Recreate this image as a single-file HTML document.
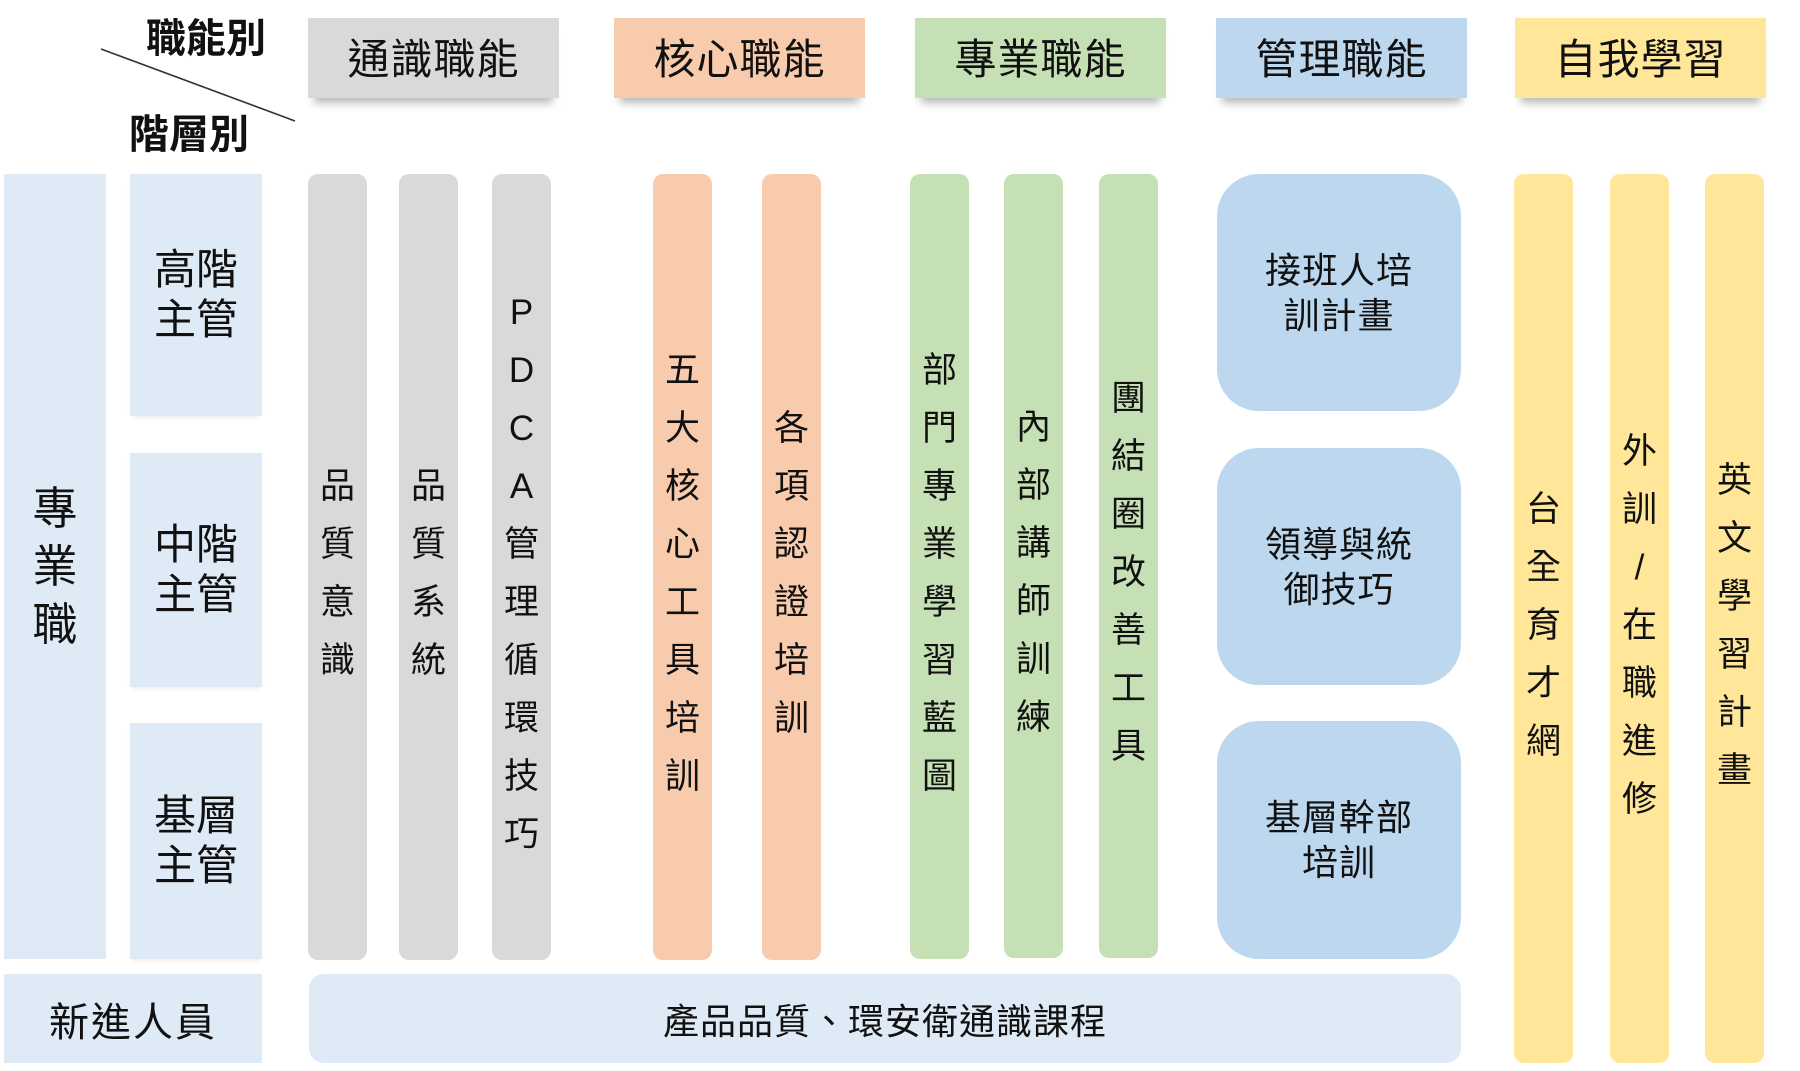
<!DOCTYPE html>
<html>
<head>
<meta charset="utf-8">
<style>
  html, body { margin:0; padding:0; }
  body { width:1800px; height:1071px; background:#fff; position:relative; overflow:hidden;
         font-family:"Liberation Sans","Noto Sans CJK TC","Noto Sans CJK SC",sans-serif; color:#111; }
  .a { position:absolute; box-sizing:border-box; }
  .hdr { top:18px; height:80px; width:251px; display:flex; align-items:center; justify-content:center;
         font-size:42px; letter-spacing:1px; padding-bottom:4px; box-shadow:0 11px 8px -6px rgba(0,0,0,0.28); }
  .gray { background:#d9d9d9; }
  .orange { background:#f8cbad; }
  .green { background:#c5e0b4; }
  .blue { background:#bdd7ee; }
  .yellow { background:#ffe699; }
  .lb { background:#deeaf6; }
  .bar { top:174px; height:786px; width:59px; border-radius:10px; display:flex; flex-direction:column;
         align-items:center; justify-content:center; padding-top:14px; font-size:35px; }
  .bar span { display:block; height:58px; line-height:58px; text-align:center; }
  .ybar { top:174px; height:889px; width:59px; border-radius:10px; display:flex; flex-direction:column;
         align-items:center; justify-content:center; padding-top:14px; font-size:35px; }
  .ybar span { display:block; height:58px; line-height:58px; text-align:center; }
  .lvl { left:130px; width:132px; display:flex; align-items:center; justify-content:center; text-align:center;
         font-size:42px; line-height:50px; box-shadow:0 4px 6px -3px rgba(0,0,0,0.10); }
  .mbox { left:1217px; width:244px; border-radius:42px; display:flex; align-items:center; justify-content:center;
          text-align:center; font-size:36px; line-height:45px; letter-spacing:1px; }
</style>
</head>
<body>

<!-- corner labels -->
<div class="a" style="left:136px;top:14px;width:140px;height:50px;font-size:40px;font-weight:bold;line-height:50px;text-align:center;">職能別</div>
<div class="a" style="left:118px;top:110px;width:142px;height:50px;font-size:40px;font-weight:bold;line-height:50px;text-align:center;">階層別</div>
<svg class="a" style="left:0;top:0;" width="320" height="140">
  <line x1="101" y1="49" x2="295" y2="121" stroke="#333" stroke-width="1.6"/>
</svg>

<!-- headers -->
<div class="a hdr gray" style="left:308px;">通識職能</div>
<div class="a hdr orange" style="left:614px;">核心職能</div>
<div class="a hdr green" style="left:915px;">專業職能</div>
<div class="a hdr blue" style="left:1216px;">管理職能</div>
<div class="a hdr yellow" style="left:1515px;">自我學習</div>

<!-- left column -->
<div class="a lb" style="left:4px;top:174px;width:102px;height:785px;display:flex;flex-direction:column;align-items:center;justify-content:center;font-size:45px;">
  <span style="display:block;height:58px;line-height:58px;">專</span>
  <span style="display:block;height:58px;line-height:58px;">業</span>
  <span style="display:block;height:58px;line-height:58px;">職</span>
</div>
<div class="a lvl lb" style="top:174px;height:242px;">高階<br>主管</div>
<div class="a lvl lb" style="top:453px;height:234px;">中階<br>主管</div>
<div class="a lvl lb" style="top:723px;height:236px;">基層<br>主管</div>

<!-- gray bars -->
<div class="a bar gray" style="left:308px;"><span>品</span><span>質</span><span>意</span><span>識</span></div>
<div class="a bar gray" style="left:399px;"><span>品</span><span>質</span><span>系</span><span>統</span></div>
<div class="a bar gray" style="left:492px;"><span>P</span><span>D</span><span>C</span><span>A</span><span>管</span><span>理</span><span>循</span><span>環</span><span>技</span><span>巧</span></div>

<!-- orange bars -->
<div class="a bar orange" style="left:653px;"><span>五</span><span>大</span><span>核</span><span>心</span><span>工</span><span>具</span><span>培</span><span>訓</span></div>
<div class="a bar orange" style="left:762px;"><span>各</span><span>項</span><span>認</span><span>證</span><span>培</span><span>訓</span></div>

<!-- green bars -->
<div class="a bar green" style="left:910px;height:785px;"><span>部</span><span>門</span><span>專</span><span>業</span><span>學</span><span>習</span><span>藍</span><span>圖</span></div>
<div class="a bar green" style="left:1004px;height:784px;"><span>內</span><span>部</span><span>講</span><span>師</span><span>訓</span><span>練</span></div>
<div class="a bar green" style="left:1099px;height:784px;"><span>團</span><span>結</span><span>圈</span><span>改</span><span>善</span><span>工</span><span>具</span></div>

<!-- blue management boxes -->
<div class="a mbox blue" style="top:174px;height:237px;">接班人培<br>訓計畫</div>
<div class="a mbox blue" style="top:448px;height:237px;">領導與統<br>御技巧</div>
<div class="a mbox blue" style="top:721px;height:238px;">基層幹部<br>培訓</div>

<!-- yellow bars -->
<div class="a ybar yellow" style="left:1514px;"><span>台</span><span>全</span><span>育</span><span>才</span><span>網</span></div>
<div class="a ybar yellow" style="left:1610px;"><span>外</span><span>訓</span><span>/</span><span>在</span><span>職</span><span>進</span><span>修</span></div>
<div class="a ybar yellow" style="left:1705px;"><span>英</span><span>文</span><span>學</span><span>習</span><span>計</span><span>畫</span></div>

<!-- bottom row -->
<div class="a lb" style="left:4px;top:974px;width:258px;height:89px;display:flex;align-items:center;justify-content:center;font-size:40px;letter-spacing:2px;">新進人員</div>
<div class="a lb" style="left:309px;top:974px;width:1152px;height:89px;border-radius:15px;display:flex;align-items:center;justify-content:center;font-size:36px;letter-spacing:1px;">產品品質、環安衛通識課程</div>

</body>
</html>
